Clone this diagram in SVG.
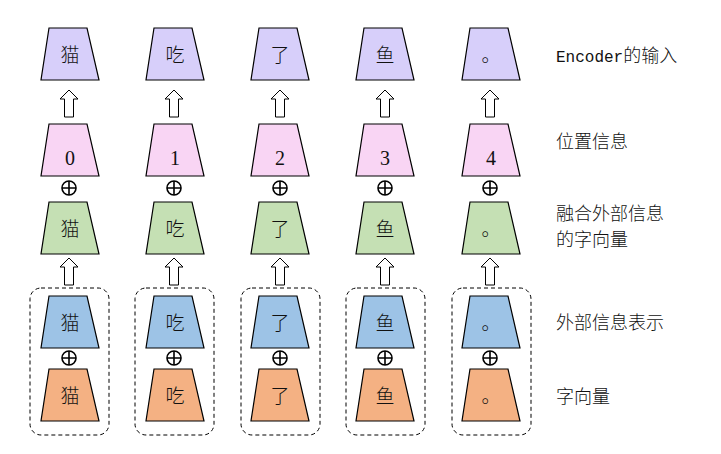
<svg xmlns="http://www.w3.org/2000/svg" width="721" height="454" viewBox="0 0 721 454">
<defs>
<style>
.t{stroke:#000;stroke-width:1.2}
.p{fill:#d7cffa}.k{fill:#f9d5f4}.g{fill:#c5e0b4}.b{fill:#9dc3e6}.o{fill:#f4b183}
.c{font-family:"Noto Sans CJK SC","Liberation Serif",serif;font-size:19px;font-weight:300;text-anchor:middle;fill:#111}
.n{font-family:"Liberation Serif",serif;font-size:20px;text-anchor:middle;fill:#111}
.l{font-family:"Noto Sans CJK SC","Liberation Mono",monospace;font-size:18px;font-weight:300;fill:#111}
.m{font-family:"Liberation Mono",monospace;font-size:16px;font-weight:400}
.a{fill:#fff;stroke:#000;stroke-width:1}
.x{fill:#fff;stroke:#000;stroke-width:1.6}
.d{fill:none;stroke:#000;stroke-width:1;stroke-dasharray:4 3}
</style>
<path id="tz" d="M-21,0 H17 L29,52 H-29 Z"/>
<path id="ar" d="M0,0 L9,9 H4.5 V27 H-4.5 V9 H-9 Z"/>
<g id="op"><circle r="7"/><path d="M-7,0 H7 M0,-7 V7" fill="none"/></g>
</defs>
<g id="connectors">
<g class="a">
<use href="#ar" x="69" y="90"/><use href="#ar" x="174" y="90"/><use href="#ar" x="280" y="90"/><use href="#ar" x="385" y="90"/><use href="#ar" x="490" y="90"/>
<use href="#ar" x="69" y="258"/><use href="#ar" x="174" y="258"/><use href="#ar" x="280" y="258"/><use href="#ar" x="385" y="258"/><use href="#ar" x="490" y="258"/>
</g>
<g class="x">
<use href="#op" x="69" y="188"/><use href="#op" x="174" y="188"/><use href="#op" x="280" y="188"/><use href="#op" x="385" y="188"/><use href="#op" x="490" y="188"/>
<use href="#op" x="69" y="358"/><use href="#op" x="174" y="358"/><use href="#op" x="280" y="358"/><use href="#op" x="385" y="358"/><use href="#op" x="490" y="358"/>
</g>
<g class="d">
<rect x="30" y="288" width="79" height="147" rx="11"/>
<rect x="135" y="288" width="79" height="147" rx="11"/>
<rect x="241" y="288" width="79" height="147" rx="11"/>
<rect x="346" y="288" width="79" height="147" rx="11"/>
<rect x="452" y="288" width="79" height="147" rx="11"/>
</g>
</g>
<g id="col1">
<use href="#tz" x="70" y="28" class="t p"/><text class="c" x="70" y="62">猫</text>
<use href="#tz" x="70" y="124" class="t k"/><text class="n" x="70" y="165">0</text>
<use href="#tz" x="70" y="202" class="t g"/><text class="c" x="70" y="236">猫</text>
<use href="#tz" x="70" y="296" class="t b"/><text class="c" x="70" y="330">猫</text>
<use href="#tz" x="70" y="369" class="t o"/><text class="c" x="70" y="403">猫</text>
</g>
<g id="col2">
<use href="#tz" x="175" y="28" class="t p"/><text class="c" x="175" y="62">吃</text>
<use href="#tz" x="175" y="124" class="t k"/><text class="n" x="175" y="165">1</text>
<use href="#tz" x="175" y="202" class="t g"/><text class="c" x="175" y="236">吃</text>
<use href="#tz" x="175" y="296" class="t b"/><text class="c" x="175" y="330">吃</text>
<use href="#tz" x="175" y="369" class="t o"/><text class="c" x="175" y="403">吃</text>
</g>
<g id="col3">
<use href="#tz" x="280" y="28" class="t p"/><text class="c" x="280" y="62">了</text>
<use href="#tz" x="280" y="124" class="t k"/><text class="n" x="280" y="165">2</text>
<use href="#tz" x="280" y="202" class="t g"/><text class="c" x="280" y="236">了</text>
<use href="#tz" x="280" y="296" class="t b"/><text class="c" x="280" y="330">了</text>
<use href="#tz" x="280" y="369" class="t o"/><text class="c" x="280" y="403">了</text>
</g>
<g id="col4">
<use href="#tz" x="385" y="28" class="t p"/><text class="c" x="385" y="62">鱼</text>
<use href="#tz" x="385" y="124" class="t k"/><text class="n" x="385" y="165">3</text>
<use href="#tz" x="385" y="202" class="t g"/><text class="c" x="385" y="236">鱼</text>
<use href="#tz" x="385" y="296" class="t b"/><text class="c" x="385" y="330">鱼</text>
<use href="#tz" x="385" y="369" class="t o"/><text class="c" x="385" y="403">鱼</text>
</g>
<g id="col5">
<use href="#tz" x="491" y="28" class="t p"/><text class="c" x="491" y="62">。</text>
<use href="#tz" x="491" y="124" class="t k"/><text class="n" x="491" y="165">4</text>
<use href="#tz" x="491" y="202" class="t g"/><text class="c" x="491" y="236">。</text>
<use href="#tz" x="491" y="296" class="t b"/><text class="c" x="491" y="330">。</text>
<use href="#tz" x="491" y="369" class="t o"/><text class="c" x="491" y="403">。</text>
</g>
<g id="labels">
<text class="l" x="556" y="62"><tspan class="m">Encoder</tspan>的输入</text>
<text class="l" x="556" y="148">位置信息</text>
<text class="l" x="556" y="220">融合外部信息</text>
<text class="l" x="556" y="246">的字向量</text>
<text class="l" x="556" y="329">外部信息表示</text>
<text class="l" x="556" y="403">字向量</text>
</g>
</svg>
